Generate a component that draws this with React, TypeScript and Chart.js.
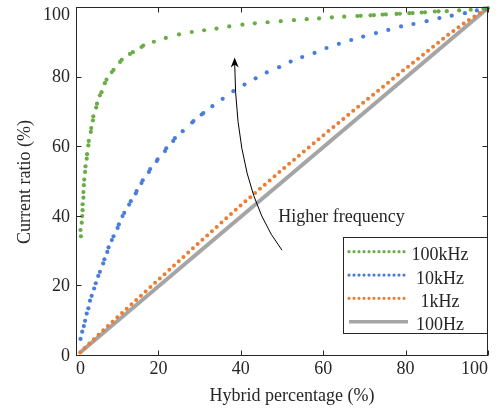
import React, { useEffect, useRef } from "react";
import { Chart, registerables } from "chart.js";

Chart.register(...registerables);

const FONT = "'Liberation Serif', 'Times New Roman', Times, serif";
const INK = "#262626";

// ---- data ----
const seriesLabels = ["100kHz", "10kHz", "1kHz", "100Hz"];
const seriesColors = ["#6AAD45", "#4A7DDB", "#ED7D31", "#A5A5A5"];
const seriesStyles = ["dots", "dots", "dotted", "solid"];

const x100k = [1.2, 1.1, 1.4, 1.5, 1.6, 1.6, 1.8, 1.8, 1.9, 2.0, 2.2, 2.3, 2.6, 2.7, 3.0, 3.1, 3.6, 3.7, 4.1, 4.2, 4.9, 5.1, 5.8, 6.2, 7.0, 7.4, 8.7, 9.1, 10.7, 11.1, 13.1, 13.8, 15.9, 16.3, 18.9, 21.8, 25.0, 28.1, 31.1, 34.1, 37.2, 40.4, 43.4, 46.5, 49.7, 52.9, 56.0, 59.0, 62.1, 65.1, 68.3, 69.1, 71.5, 72.3, 74.4, 75.2, 77.8, 78.6, 80.9, 81.7, 83.9, 84.7, 87.1, 88.0, 90.0, 93.0, 95.8, 98.9, 100];
const y100k = [34.4, 36.2, 38.3, 40.2, 41.9, 43.6, 45.5, 47.1, 49.1, 50.7, 52.9, 54.5, 56.7, 58.0, 60.5, 61.8, 64.4, 65.5, 67.7, 68.9, 71.4, 72.5, 74.9, 75.8, 78.4, 79.4, 81.6, 82.2, 84.5, 85.1, 86.8, 87.3, 88.8, 89.2, 90.3, 91.4, 92.4, 93.1, 93.6, 94.1, 94.7, 95.2, 95.6, 95.9, 96.2, 96.5, 96.8, 97.0, 97.3, 97.5, 97.7, 97.75, 97.9, 97.95, 98.1, 98.15, 98.3, 98.35, 98.5, 98.55, 98.7, 98.75, 99.0, 99.05, 99.1, 99.3, 99.5, 99.8, 100];

const x10k = [1.1, 1.5, 1.9, 2.2, 2.6, 3.0, 3.4, 3.8, 4.4, 4.8, 5.4, 5.8, 6.6, 6.9, 7.6, 7.9, 8.7, 9.1, 10.1, 10.4, 11.3, 11.7, 12.9, 13.3, 14.5, 14.7, 15.9, 16.2, 17.7, 18.0, 19.6, 19.8, 21.6, 21.9, 23.6, 24.0, 25.9, 28.2, 28.5, 30.5, 30.9, 33.1, 35.6, 38.2, 40.9, 43.6, 46.3, 49.3, 52.1, 54.9, 57.9, 60.8, 63.8, 66.8, 69.7, 72.8, 75.8, 78.9, 81.9, 85.1, 88.2, 91.2, 94.4, 97.3, 99.3];
const y10k = [4.9, 7.0, 8.6, 10.1, 12.2, 13.7, 15.9, 17.3, 19.4, 20.9, 23.0, 24.2, 26.6, 27.8, 29.9, 31.2, 33.3, 34.4, 36.8, 37.8, 40.2, 41.1, 43.5, 44.5, 46.7, 47.4, 49.7, 50.5, 52.9, 53.7, 56.0, 56.5, 58.9, 59.7, 61.8, 62.6, 64.6, 67.1, 67.5, 69.4, 69.8, 71.8, 73.9, 76.1, 78.0, 79.8, 81.5, 83.0, 84.6, 85.9, 87.1, 88.5, 89.7, 90.8, 91.8, 92.8, 93.7, 94.7, 95.4, 96.2, 97.1, 97.8, 98.5, 99.3, 99.8];

const x1k = [1, 5, 10, 20, 30, 40, 50, 60, 70, 80, 90, 95, 100];
const y1k = [1, 5.6, 11.1, 21.9, 32.7, 43.3, 53.5, 63.4, 73.1, 82.6, 92.0, 96.3, 100];

const x100 = [1, 100];
const y100 = [1, 100];

const xTickValues = [0, 20, 40, 60, 80, 100];
const yTickValues = [0, 20, 40, 60, 80, 100];

const xTitle = "Hybrid percentage (%)";
const yTitle = "Current ratio (%)";
const annotationText = "Higher frequency";
const textPos = [49.1, 38.4];
const arrowTail = [50.0, 30.4];
const arrowCtrl = [38.8, 47.6];
const arrowTip = [38.5, 85.8];

const pts = (xs: number[], ys: number[]) => xs.map((x, i) => ({ x, y: ys[i] }));

const framePlugin = {
  id: "frame",
  afterDraw(chart: any) {
    const { ctx, chartArea: a, scales } = chart;
    const xs = scales.x, ys = scales.y;
    const L = Math.round(a.left) + 0.5;
    const R = Math.round(a.right) - 0.5;
    const T = Math.round(a.top) - 0.5;
    const B = Math.round(a.bottom) - 0.5;
    ctx.save();
    ctx.strokeStyle = INK;
    ctx.lineWidth = 1;
    ctx.setLineDash([]);
    ctx.strokeRect(L, T, R - L, B - T);
    ctx.beginPath();
    for (const v of xTickValues) {
      const p = Math.round(xs.getPixelForValue(v)) + 0.5;
      ctx.moveTo(p, B); ctx.lineTo(p, B - 5);
      ctx.moveTo(p, T); ctx.lineTo(p, T + 5);
    }
    for (const v of yTickValues) {
      const p = Math.round(ys.getPixelForValue(v)) - 0.5;
      ctx.moveTo(L, p); ctx.lineTo(L + 5, p);
      ctx.moveTo(R, p); ctx.lineTo(R - 5, p);
    }
    ctx.stroke();
    // x axis title
    ctx.fillStyle = INK;
    ctx.font = `18px ${FONT}`;
    ctx.textAlign = "center";
    ctx.textBaseline = "alphabetic";
    ctx.fillText(xTitle, (a.left + a.right) / 2 + 10, 400.5);
    ctx.restore();
  },
};

const annotPlugin = {
  id: "annot",
  afterDatasetsDraw(chart: any) {
    const { ctx, scales } = chart;
    const X = scales.x, Y = scales.y;
    const P = (p: number[]) => [X.getPixelForValue(p[0]), Y.getPixelForValue(p[1])];
    const [x0, y0] = P(arrowTail);
    const [cx, cy] = P(arrowCtrl);
    const [x1, y1] = P(arrowTip);
    ctx.save();
    ctx.setLineDash([]);
    ctx.strokeStyle = "#000";
    ctx.lineWidth = 1;
    ctx.beginPath();
    ctx.moveTo(x0, y0);
    ctx.quadraticCurveTo(cx, cy, x1, y1 + 4);
    ctx.stroke();
    const ang = Math.atan2(y1 - cy, x1 - cx);
    const ux = Math.cos(ang), uy = Math.sin(ang);
    const px = -uy, py = ux;
    const len = 10, hw = 4, notch = 7;
    ctx.fillStyle = "#000";
    ctx.beginPath();
    ctx.moveTo(x1, y1);
    ctx.lineTo(x1 - ux * len + px * hw, y1 - uy * len + py * hw);
    ctx.lineTo(x1 - ux * notch, y1 - uy * notch);
    ctx.lineTo(x1 - ux * len - px * hw, y1 - uy * len - py * hw);
    ctx.closePath();
    ctx.fill();
    const [tx, ty] = P(textPos);
    ctx.font = `18px ${FONT}`;
    ctx.fillStyle = INK;
    ctx.textAlign = "left";
    ctx.textBaseline = "alphabetic";
    ctx.fillText(annotationText, tx, ty);
    ctx.restore();
  },
};

const legendPlugin = {
  id: "customLegend",
  afterDraw(chart: any) {
    const { ctx, chartArea: a } = chart;
    const right = Math.round(a.right) - 0.5;
    const bottom = Math.round(a.bottom) - 22.5;
    const w = 144, h = 96;
    const left = right - w, top = bottom - h;
    ctx.save();
    ctx.fillStyle = "#fff";
    ctx.fillRect(left, top, w, h);
    ctx.strokeStyle = INK;
    ctx.lineWidth = 1;
    ctx.setLineDash([]);
    ctx.strokeRect(left, top, w, h);
    chart.data.datasets.forEach((ds: any, i: number) => {
      const yy = top + 14.2 + i * 23.33;
      ctx.beginPath();
      ctx.strokeStyle = seriesColors[i];
      if (seriesStyles[i] === "solid") {
        ctx.setLineDash([]);
        ctx.lineWidth = 3.5;
        ctx.lineCap = "butt";
      } else {
        ctx.setLineDash([0, 5]);
        ctx.lineWidth = 3.2;
        ctx.lineCap = "round";
      }
      ctx.moveTo(left + 5.5, yy);
      ctx.lineTo(left + 64.5, yy);
      ctx.stroke();
      ctx.setLineDash([]);
      ctx.fillStyle = INK;
      ctx.font = `18px ${FONT}`;
      ctx.textAlign = "center";
      ctx.textBaseline = "alphabetic";
      ctx.fillText(ds.label, left + 96.5, yy + 8.5);
    });
    ctx.restore();
  },
};

export default function App() {
  const ref = useRef<HTMLCanvasElement | null>(null);
  useEffect(() => {
    if (!ref.current) return;
    const dotSet = (i: number, xs: number[], ys: number[]) => ({
      label: seriesLabels[i],
      data: pts(xs, ys),
      showLine: false,
      pointRadius: 2.1,
      pointHoverRadius: 0,
      pointBorderWidth: 0,
      pointBackgroundColor: seriesColors[i],
      backgroundColor: seriesColors[i],
      borderColor: seriesColors[i],
      clip: false,
    });
    const chart = new Chart(ref.current, {
      type: "scatter",
      data: {
        datasets: [
          dotSet(0, x100k, y100k),
          dotSet(1, x10k, y10k),
          {
            label: seriesLabels[2],
            data: pts(x1k, y1k),
            showLine: true,
            pointRadius: 0,
            borderColor: seriesColors[2],
            backgroundColor: seriesColors[2],
            borderWidth: 4,
            borderDash: [0, 6.4],
            borderCapStyle: "round",
            tension: 0,
            clip: false,
          } as any,
          {
            label: seriesLabels[3],
            data: pts(x100, y100),
            showLine: true,
            pointRadius: 0,
            borderColor: seriesColors[3],
            backgroundColor: seriesColors[3],
            borderWidth: 4,
            tension: 0,
            clip: false,
          } as any,
        ],
      },
      options: {
        animation: false,
        responsive: false,
        events: [],
        layout: { padding: { left: 0, right: 10, top: 8, bottom: 0 } },
        plugins: { legend: { display: false }, tooltip: { enabled: false } },
        scales: {
          x: {
            type: "linear",
            position: "bottom",
            min: 0,
            max: 100,
            grid: { display: false, drawTicks: false },
            border: { display: false },
            ticks: {
              stepSize: 20,
              padding: 2,
              align: "inner",
              maxRotation: 0,
              color: INK,
              font: { family: FONT, size: 18 },
            },
            title: { display: false, text: xTitle },
            afterFit: (s: any) => {
              s.height = 55;
              s.paddingLeft = 0;
              s.paddingRight = 0;
            },
          } as any,
          y: {
            type: "linear",
            min: 0,
            max: 100,
            grid: { display: false, drawTicks: false },
            border: { display: false },
            ticks: {
              stepSize: 20,
              padding: 6,
              color: INK,
              font: (c: any) => ({
                family: FONT,
                size: 18,
                lineHeight: c.tick && c.tick.value === 100 ? "15px" : 1.2,
              }),
              callback: (v: any) => (v === 100 ? ["", "100"] : String(v)),
            },
            title: {
              display: true,
              text: yTitle,
              color: INK,
              font: { family: FONT, size: 18 },
              padding: { top: 14, bottom: 0 },
            },
            afterFit: (s: any) => {
              s.width = 76;
              s.paddingTop = 0;
              s.paddingBottom = 0;
            },
          } as any,
        },
      },
      plugins: [annotPlugin, framePlugin, legendPlugin],
    });
    return () => chart.destroy();
  }, []);
  return (
    <div style={{ position: "absolute", left: 0, top: 0, width: 498, height: 411, background: "#fff" }}>
      <canvas ref={ref} width={498} height={411} style={{ display: "block" }} />
    </div>
  );
}
